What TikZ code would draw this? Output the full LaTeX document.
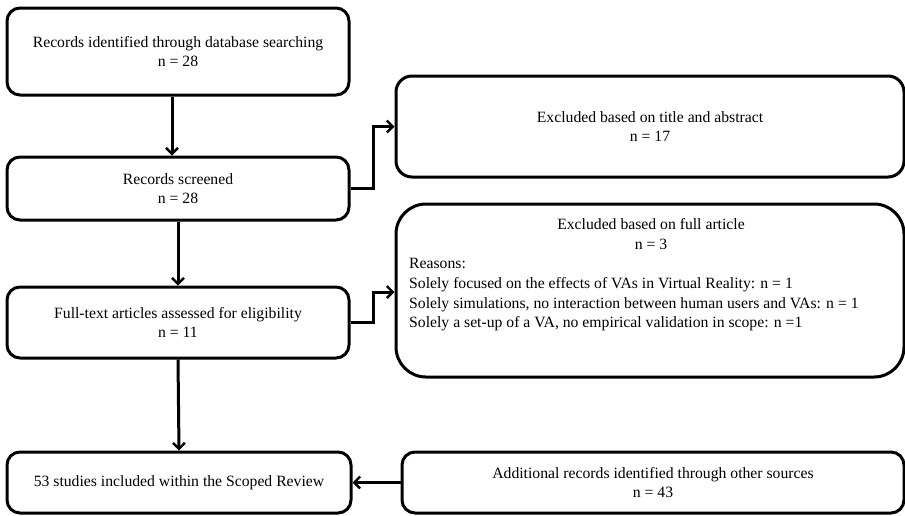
\documentclass[tikz,border=0pt]{standalone}
\usepackage{fontspec}
\setmainfont{Liberation Serif}
\usetikzlibrary{arrows.meta}
\begin{document}
\begin{tikzpicture}[x=1pt,y=-1pt,
  box/.style={draw=black, line width=3pt, rounded corners=13pt, inner sep=0pt, align=center,
    font=\fontsize{15.7}{19}\selectfont},
  txt/.style={inner sep=0pt, font=\fontsize{15.7}{19.8}\selectfont},
  arr/.style={line width=3pt, -{Straight Barb[length=6pt,width=12pt,line width=2.4pt]}}]
\useasboundingbox (0,0) rectangle (905,515);
\node[box, minimum width=342pt, minimum height=87pt] (b1) at (178,51.5)
  {Records identified  through database searching\\n = 28};
\node[box, minimum width=342pt, minimum height=63pt] (b2) at (178,188.5)
  {Records screened\\n = 28};
\node[box, minimum width=342pt, minimum height=71pt] (b5) at (178,322.5)
  {Full-text articles assessed for eligibility\\n = 11};
\node[box, minimum width=344pt, minimum height=61pt] (b6) at (179,482.5)
  {53 studies included  within the Scoped Review};
\node[box, rounded corners=16pt, minimum width=508pt, minimum height=101pt] (b3) at (650,126.5)
  {Excluded  based on title and abstract\\n = 17};
\node[box, rounded corners=30pt, minimum width=508pt, minimum height=173pt] (b4) at (650,290.5) {};
\node[txt, align=center, anchor=north] (b4t) at (651,218)
  {Excluded  based on  full article\\n = 3};
\node[txt, align=left, anchor=north west] (b4r) at (409,258)
  {Reasons:\\
   Solely focused on the effects of VAs in Virtual Reality:  n = 1\\
   Solely simulations, no interaction between human users and VAs: n = 1\\
   Solely a set-up of a VA, no empirical  validation in scope: n =1};
\node[box, minimum width=502pt, minimum height=61pt] (b7) at (653,482.5)
  {Additional records identified through other sources\\n = 43};
\draw[arr] ([xshift=-6pt]b1.south) -- ([xshift=-6pt]b2.north);
\draw[arr] (b2.south) -- (b5.north);
\draw[arr] (b5.south) -- (b6.north);
\draw[arr] (b2.east) -- ++(23,0) |- (b3.west);
\draw[arr] (b5.east) -- ++(23,0) |- ([yshift=-1.5pt]b4.west);
\draw[arr] (b7.west) -- (b6.east);
\end{tikzpicture}
\end{document}
